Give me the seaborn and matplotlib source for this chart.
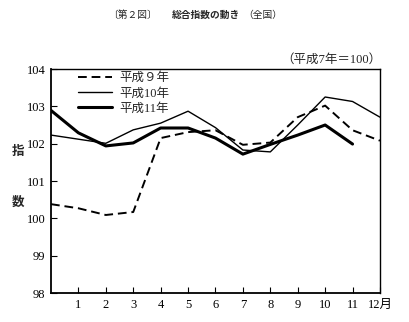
import matplotlib
matplotlib.use("Agg")
import matplotlib.pyplot as plt
import seaborn as sns
import pandas as pd

sns.set_theme(style="ticks")
plt.rcParams['font.family'] = ['Liberation Serif', 'Noto Sans CJK JP', 'DejaVu Sans']

positions = list(range(13))
h9 = [100.38, 100.27, 100.09, 100.17, 102.15, 102.31, 102.36, 101.97, 102.03, 102.71, 103.02, 102.36, 102.08]
h10 = [102.23, 102.12, 102.01, 102.37, 102.55, 102.87, 102.43, 101.83, 101.78, 102.50, 103.25, 103.13, 102.71]
h11 = [102.89, 102.29, 101.94, 102.02, 102.42, 102.42, 102.15, 101.72, 101.98, 102.23, 102.50, 101.99]
series_names = ["平成９年", "平成10年", "平成11年"]
tick_pos = list(range(1, 13))
tick_labels = ["1", "2", "3", "4", "5", "6", "7", "8", "9", "10", "11", "12月"]
y_ticks = [98, 99, 100, 101, 102, 103, 104]

fig = plt.figure(figsize=(4.09, 3.22), dpi=100)
ax = fig.add_axes([0.1247, 0.09, 0.929 - 0.1247, 0.7857 - 0.09])

df9 = pd.DataFrame({"x": positions, "y": h9})
df10 = pd.DataFrame({"x": positions, "y": h10})
df11 = pd.DataFrame({"x": positions[:len(h11)], "y": h11})

sns.lineplot(data=df9, x="x", y="y", ax=ax, color="black", lw=1.4, dashes=False,
             linestyle=(0, (4.5, 2.5)), label=series_names[0])
sns.lineplot(data=df10, x="x", y="y", ax=ax, color="black", lw=1.0, label=series_names[1])
sns.lineplot(data=df11, x="x", y="y", ax=ax, color="black", lw=2.2, label=series_names[2])

ax.set_xlim(0, 12)
ax.set_ylim(98, 104)
ax.set_xticks(tick_pos)
ax.set_xticklabels(tick_labels, fontsize=9)
ax.set_yticks(y_ticks)
ax.set_yticklabels([str(v) for v in y_ticks], fontsize=9)
ax.tick_params(direction="in", length=4, width=0.8, colors="black", pad=4)
ax.set_xlabel("")
ax.set_ylabel("")
for s in ax.spines.values():
    s.set_visible(True)
    s.set_color("black")
    s.set_linewidth(1.0)
ax.spines['left'].set_linewidth(1.3)
ax.spines['bottom'].set_linewidth(1.3)

leg = ax.legend(loc="upper left", bbox_to_anchor=(0.048, 1.036), frameon=False,
                handlelength=2.7, handletextpad=0.6, labelspacing=0.25,
                prop={"family": ["Liberation Serif", "Noto Sans CJK JP"], "size": 9})

fig.text(18 / 409, 1 - 152 / 322, "指", ha="center", va="center", fontsize=9,
         family=["Noto Sans CJK JP"], fontweight="bold")
fig.text(18 / 409, 1 - 202 / 322, "数", ha="center", va="center", fontsize=9,
         family=["Noto Sans CJK JP"], fontweight="bold")

fig.text(381 / 409, 1 - 60 / 322, "（平成7年＝100）", ha="right", va="center", fontsize=9,
         family=["Liberation Serif", "Noto Sans CJK JP"])

fig.text(157 / 409, 1 - 15 / 322, "〔第２図〕", ha="right", va="center", fontsize=7,
         family=["Noto Sans CJK JP"])
fig.text(172 / 409, 1 - 15 / 322, "総合指数の動き", ha="left", va="center", fontsize=7,
         family=["Noto Sans CJK JP"], fontweight="bold")
fig.text(243 / 409, 1 - 15 / 322, "（全国）", ha="left", va="center", fontsize=7,
         family=["Noto Sans CJK JP"])

fig.savefig("out.png", dpi=100)
